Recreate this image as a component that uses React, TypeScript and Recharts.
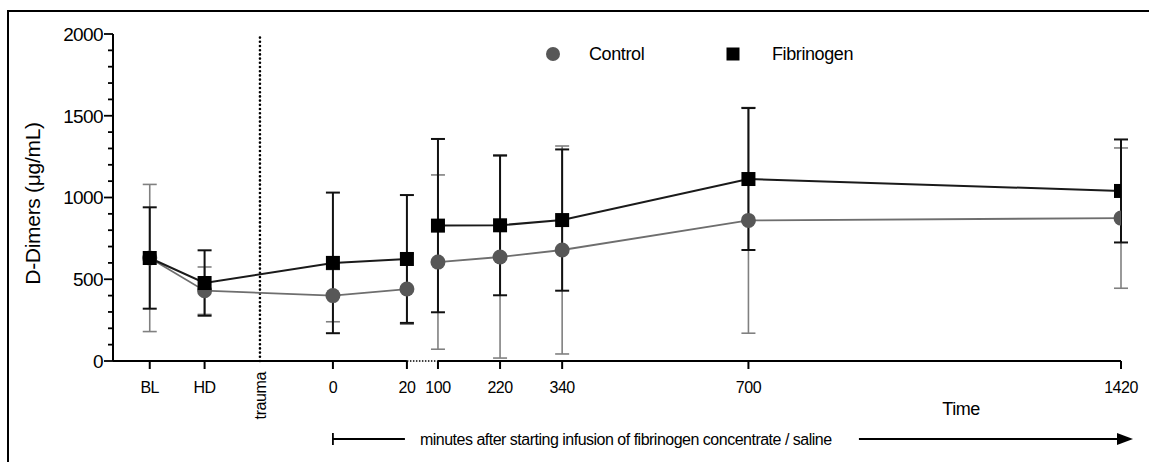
import { ComposedChart, ErrorBar, Legend, Line, ReferenceLine, XAxis, YAxis } from "recharts"

const categories = ["BL", "HD", "0", "20", "100", "220", "340", "700", "1420"]
const controlMean = [630, 430, 400, 440, 605, 636, 679, 860, 874]
const controlSD = [450, 145, 160, 215, 533, 618, 636, 690, 429]
const fibrinogenMean = [630, 477, 600, 624, 828, 830, 862, 1113, 1040]
const fibrinogenSD = [310, 200, 430, 391, 530, 428, 432, 434, 315]
const tickLabels = ["BL", "HD", "trauma", "0", "20", "100", "220", "340", "700", "1420"]
const yMajor = [0, 500, 1000, 1500, 2000]

const FONT = "'Liberation Sans', Arial, sans-serif"

// broken time axis: pre-trauma slots, 0–20 min stretched, minutes as-is from 100 on
const AXIS_MIN = -528
const PRE_SLOTS: Record<string, number> = { BL: -457, HD: -351, trauma: -244 }
const axisPos = (label: string) => {
  if (label in PRE_SLOTS) return PRE_SLOTS[label]
  const t = Number(label)
  return t >= 100 ? t : -103 + t * 7.15
}

const rows: any[] = categories.map((c, i) => ({
  pos: axisPos(c),
  ctrl: controlMean[i],
  ctrlErr: controlSD[i],
  fib: fibrinogenMean[i],
  fibErr: fibrinogenSD[i],
}))
// empty row so the lines stop at the axis break
rows.splice(4, 0, {
  pos: (axisPos("20") + axisPos("100")) / 2,
  ctrl: null,
  ctrlErr: null,
  fib: null,
  fibErr: null,
})

const yTicks = Array.from({ length: 21 }, (_, i) => i * 100)

const XTick = ({ x, y, payload }: any) => {
  const label = tickLabels.find((l) => Math.abs(axisPos(l) - payload.value) < 0.5)
  if (label === "trauma") {
    return (
      <text
        x={x}
        y={y + 11}
        transform={`rotate(-90 ${x} ${y + 11})`}
        textAnchor="end"
        dy="0.35em"
        fontSize={16}
        letterSpacing={-0.4}
        fill="#000"
      >
        trauma
      </text>
    )
  }
  return (
    <g>
      <line x1={x} y1={y} x2={x} y2={y + 8} stroke="#000" strokeWidth={2} />
      <text x={x} y={y + 32} textAnchor="middle" fontSize={16} letterSpacing={-0.5} fill="#000">
        {label}
      </text>
    </g>
  )
}

const YTick = ({ x, y, payload }: any) => {
  const major = yMajor.includes(payload.value)
  return (
    <g>
      <line x1={x - (major ? 9 : 5)} y1={y} x2={x} y2={y} stroke="#000" strokeWidth={1.8} />
      {major && (
        <text x={x - 10} y={y} dy="0.36em" textAnchor="end" fontSize={19} letterSpacing={-0.6} fill="#000">
          {payload.value}
        </text>
      )}
    </g>
  )
}

const SquareDot = ({ cx, cy, index }: any) => {
  if (cx == null || cy == null) return <g key={`s${index}`} />
  return <rect key={`s${index}`} x={cx - 7} y={cy - 7} width={14} height={14} fill="#000" />
}

const YTitle = ({ viewBox }: any) => {
  const cx = viewBox.x - 20
  const cy = viewBox.y + viewBox.height / 2 + 6
  return (
    <text
      x={cx}
      y={cy}
      transform={`rotate(-90 ${cx} ${cy})`}
      textAnchor="middle"
      dy="0.35em"
      fontSize={21}
      letterSpacing={-0.3}
      fill="#000"
    >
      D-Dimers (μg/mL)
    </text>
  )
}

const TimeTitle = ({ viewBox }: any) => (
  <text
    x={viewBox.x + viewBox.width - 160}
    y={viewBox.y + 54}
    textAnchor="middle"
    fontSize={18}
    letterSpacing={-0.5}
    fill="#000"
  >
    Time
  </text>
)

const InfusionArrow = ({ x1, y1, x2 }: any) => {
  const y = y1 + 78
  return (
    <g>
      <line x1={x1} y1={y - 6} x2={x1} y2={y + 6} stroke="#000" strokeWidth={1.8} />
      <line x1={x1} y1={y} x2={x1 + 72} y2={y} stroke="#000" strokeWidth={1.8} />
      <text x={x1 + 87} y={y} dy="0.35em" fontSize={16} letterSpacing={-0.5} fill="#000">
        minutes after starting infusion of fibrinogen concentrate / saline
      </text>
      <line x1={x1 + 526} y1={y} x2={x2} y2={y} stroke="#000" strokeWidth={1.8} />
      <polygon points={`${x2 - 4},${y - 6} ${x2 - 4},${y + 6} ${x2 + 12},${y}`} fill="#000" />
    </g>
  )
}

const LegendBox = () => (
  <svg width={340} height={30} style={{ fontFamily: FONT, display: "block" }}>
    <circle cx={18} cy={14} r={7} fill="#575757" />
    <text x={54} y={14} dy="0.35em" fontSize={18} letterSpacing={-0.4} fill="#000">
      Control
    </text>
    <rect x={191.5} y={7.5} width={13} height={13} fill="#000" />
    <text x={237} y={14} dy="0.35em" fontSize={18} letterSpacing={-0.4} fill="#000">
      Fibrinogen
    </text>
  </svg>
)

export default function App() {
  return (
    <div
      style={{
        position: "absolute",
        left: 0,
        top: 0,
        width: 1149,
        height: 462,
        background: "#fff",
        overflow: "hidden",
        fontFamily: FONT,
      }}
    >
      {/* frame: only the top and left edges show in the source figure */}
      <div
        style={{
          position: "absolute",
          left: 7,
          top: 10,
          width: 1200,
          height: 500,
          borderTop: "2.5px solid #000",
          borderLeft: "2.5px solid #000",
        }}
      />
      <ComposedChart
        width={1149}
        height={462}
        data={rows}
        margin={{ top: 34, right: 28, bottom: 71, left: 53 }}
        style={{ fontFamily: FONT }}
      >
        <XAxis
          dataKey="pos"
          type="number"
          domain={[AXIS_MIN, 1420]}
          ticks={tickLabels.map(axisPos)}
          interval={0}
          allowDataOverflow
          height={30}
          axisLine={false}
          tickLine={false}
          tickSize={0}
          tickMargin={0}
          tick={<XTick />}
          label={<TimeTitle />}
        />
        <YAxis
          domain={[0, 2000]}
          ticks={yTicks}
          interval={0}
          width={60}
          axisLine={{ stroke: "#000", strokeWidth: 2 }}
          tickLine={false}
          tickSize={0}
          tickMargin={0}
          tick={<YTick />}
          label={<YTitle />}
        />
        <Legend
          layout="horizontal"
          verticalAlign="middle"
          align="center"
          wrapperStyle={{ left: 535, top: 40, width: 340, height: 30 }}
          content={() => <LegendBox />}
        />

        {/* x axis drawn in pieces, dotted across the break */}
        <ReferenceLine
          segment={[{ x: AXIS_MIN, y: 0 }, { x: axisPos("20"), y: 0 }]}
          stroke="#000"
          strokeWidth={2}
        />
        <ReferenceLine
          segment={[{ x: axisPos("20"), y: 0 }, { x: axisPos("100"), y: 0 }]}
          stroke="#000"
          strokeWidth={1.5}
          strokeDasharray="1.5 1.5"
        />
        <ReferenceLine
          segment={[{ x: axisPos("100"), y: 0 }, { x: 1420, y: 0 }]}
          stroke="#000"
          strokeWidth={2}
        />
        <ReferenceLine
          x={axisPos("trauma")}
          stroke="#000"
          strokeWidth={2.6}
          strokeDasharray="0 4.2"
          strokeLinecap="round"
        />
        <ReferenceLine
          segment={[{ x: axisPos("0"), y: 0 }, { x: 1420, y: 0 }]}
          ifOverflow="visible"
          shape={(p: any) => <InfusionArrow {...p} />}
        />

        <Line
          dataKey="ctrl"
          name="Control"
          stroke="#6e6e6e"
          strokeWidth={1.8}
          dot={{ r: 7.5, fill: "#575757", stroke: "none" }}
          activeDot={false}
          connectNulls={false}
          isAnimationActive={false}
        >
          <ErrorBar dataKey="ctrlErr" width={7} stroke="#808080" strokeWidth={1.6} />
        </Line>
        <Line
          dataKey="fib"
          name="Fibrinogen"
          stroke="#1a1a1a"
          strokeWidth={2}
          dot={<SquareDot />}
          activeDot={false}
          connectNulls={false}
          isAnimationActive={false}
        >
          <ErrorBar dataKey="fibErr" width={7} stroke="#111" strokeWidth={2} />
        </Line>
      </ComposedChart>
    </div>
  )
}
